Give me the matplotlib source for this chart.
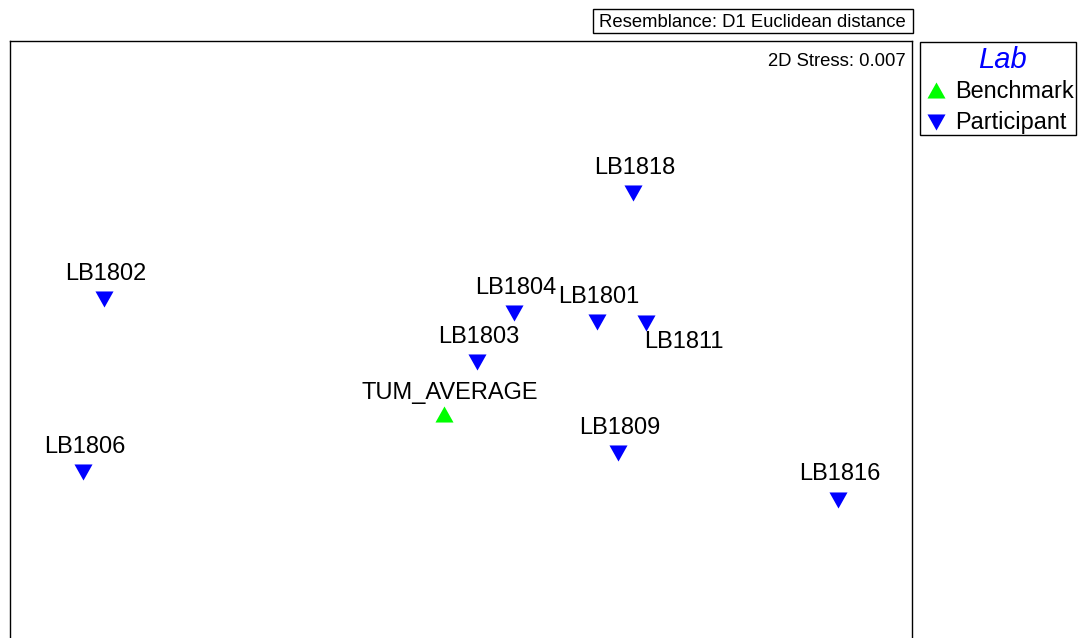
import matplotlib
matplotlib.use("Agg")
import matplotlib.pyplot as plt
from matplotlib.patches import Rectangle
from matplotlib.path import Path

plt.rcParams['font.family'] = ['Liberation Sans', 'DejaVu Sans']

# ---- data (MDS coordinates, arbitrary units) ----
labels = ["LB1818", "LB1802", "LB1804", "LB1801", "LB1811", "LB1803",
          "TUM_AVERAGE", "LB1809", "LB1806", "LB1816"]
mds1 = [6.23, 0.94, 5.04, 5.87, 6.36, 4.67, 4.34, 6.08, 0.73, 8.28]
mds2 = [4.515, 3.46, 3.32, 3.23, 3.215, 2.83, 2.31, 1.92, 1.73, 1.455]
group = ["Participant", "Participant", "Participant", "Participant", "Participant",
         "Participant", "Benchmark", "Participant", "Participant", "Participant"]
group_names = ["Benchmark", "Participant"]
stress_text = "2D Stress: 0.007"
resemblance_text = "Resemblance: D1 Euclidean distance"
legend_title = "Lab"

# ---- styles ----
BLUE = "#0000FF"
GREEN = "#00FF00"
down_tri = Path([(-1, 0.89), (1, 0.89), (0, -0.89), (-1, 0.89)],
                [Path.MOVETO, Path.LINETO, Path.LINETO, Path.CLOSEPOLY])
up_tri = Path([(-1, -0.89), (1, -0.89), (0, 0.89), (-1, -0.89)],
              [Path.MOVETO, Path.LINETO, Path.LINETO, Path.CLOSEPOLY])
style = {"Benchmark": dict(marker=up_tri, color=GREEN),
         "Participant": dict(marker=down_tri, color=BLUE)}
MS = 13
LABEL_FS = 17

W, H = 1083, 638
fig = plt.figure(figsize=(W / 100, H / 100), dpi=100)

# main plot axes (pixel box: x 10..912, y 41..645)
ax = fig.add_axes([10 / W, (H - 645) / H, 902 / W, 604 / H])
ax.set_xlim(0, 9.02)
ax.set_ylim(0, 6.04)
ax.set_xticks([])
ax.set_yticks([])
for sp in ax.spines.values():
    sp.set_linewidth(1.0)
    sp.set_color("black")

for lab, x, y, g in zip(labels, mds1, mds2, group):
    st = style[g]
    ax.plot([x], [y], linestyle="none", marker=st["marker"], markersize=MS,
            markerfacecolor=st["color"], markeredgecolor=st["color"],
            markeredgewidth=0)
    if lab == "LB1811":
        ax.annotate(lab, (x, y), xytext=(-1, -18), textcoords="offset points",
                    ha="left", va="baseline", fontsize=LABEL_FS)
    elif g == "Benchmark":
        ax.annotate(lab, (x, y), xytext=(4, 10.8), textcoords="offset points",
                    ha="center", va="baseline", fontsize=LABEL_FS)
    else:
        ax.annotate(lab, (x, y), xytext=(1.2, 14), textcoords="offset points",
                    ha="center", va="baseline", fontsize=LABEL_FS)

# overlay axes in pixel coordinates for annotations / legend
ov = fig.add_axes([0, 0, 1, 1], zorder=5)
ov.set_xlim(0, W)
ov.set_ylim(H, 0)
ov.axis("off")
ov.patch.set_alpha(0)

ov.text(906, 66, stress_text, ha="right", va="baseline", fontsize=13.3)

ov.add_patch(Rectangle((593, 9), 320, 24, fill=False, edgecolor="black", linewidth=1.0))
ov.text(752, 27, resemblance_text, ha="center", va="baseline", fontsize=13.3)

ov.add_patch(Rectangle((920, 42), 156, 93, fill=False, edgecolor="black", linewidth=1.0))
ov.text(1002, 68, legend_title, ha="center", va="baseline", fontsize=21,
        style="italic", color=BLUE)
for name, yy in zip(group_names, [90, 121.5]):
    st = style[name]
    ov.plot([936], [yy], linestyle="none", marker=st["marker"], markersize=MS,
            markerfacecolor=st["color"], markeredgecolor=st["color"], markeredgewidth=0)
    ov.text(955, yy + 7.5, name, ha="left", va="baseline", fontsize=16.9)

fig.savefig("out.png", dpi=100)
